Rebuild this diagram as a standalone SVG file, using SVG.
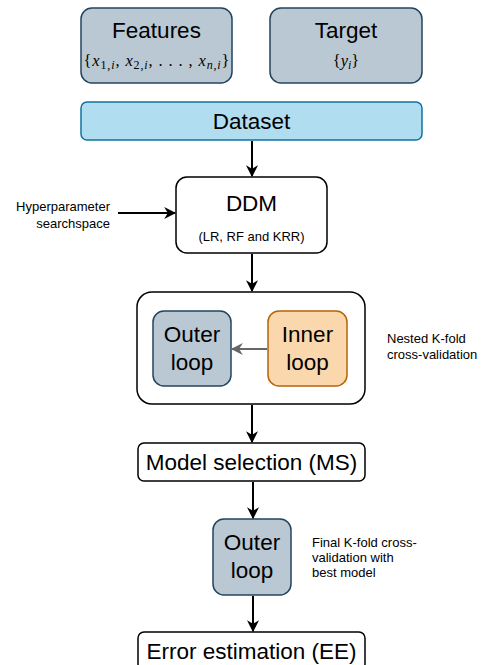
<svg xmlns="http://www.w3.org/2000/svg" width="488" height="665" viewBox="0 0 488 665">
  <style>
    .lbl { font-family: "Liberation Sans", Arial, sans-serif; fill: #000; }
    .big { font-size: 22.5px; text-anchor: middle; }
    .small { font-size: 13px; }
    .math { font-family: "Liberation Serif", "DejaVu Serif", serif; font-size: 16.5px; text-anchor: middle; fill: #000; }
    .mi { font-style: italic; }
    .sub { font-size: 12px; }
    .grey { fill: #bac8d3; stroke: #23445d; stroke-width: 1.5; }
    .blue { fill: #b1ddf0; stroke: #10739e; stroke-width: 1.5; }
    .orange { fill: #fad7ac; stroke: #b46504; stroke-width: 1.5; }
    .plain { fill: #fff; stroke: #000; stroke-width: 1.5; }
    .edge { fill: none; stroke: #000; stroke-width: 2; }
    .edge-grey { fill: none; stroke: #666; stroke-width: 2; }
  </style>
  <defs>
    <marker id="arrow" viewBox="0 0 10 10" refX="9" refY="5" markerWidth="6" markerHeight="6" orient="auto" markerUnits="strokeWidth">
      <path d="M0,0 L10,5 L0,10 L3,5 Z" fill="#000"/>
    </marker>
    <marker id="arrowGrey" viewBox="0 0 10 10" refX="9" refY="5" markerWidth="6" markerHeight="6" orient="auto" markerUnits="strokeWidth">
      <path d="M0,0 L10,5 L0,10 L3,5 Z" fill="#666"/>
    </marker>
  </defs>

  <g id="features">
    <rect class="grey" x="81" y="8" width="151" height="75" rx="11"/>
    <text class="lbl big" x="156.5" y="38">Features</text>
    <text class="math" x="156.5" y="66" textLength="146" lengthAdjust="spacing">{<tspan class="mi">x</tspan><tspan class="sub" dy="3">1,<tspan class="mi">i</tspan></tspan><tspan dy="-3">, </tspan><tspan class="mi">x</tspan><tspan class="sub" dy="3">2,<tspan class="mi">i</tspan></tspan><tspan dy="-3">, . . . , </tspan><tspan class="mi">x</tspan><tspan class="sub" dy="3"><tspan class="mi">n</tspan>,<tspan class="mi">i</tspan></tspan><tspan dy="-3">}</tspan></text>
  </g>

  <g id="target">
    <rect class="grey" x="270" y="8" width="152" height="75" rx="11"/>
    <text class="lbl big" x="346" y="38">Target</text>
    <text class="math" x="346" y="66">{<tspan class="mi">y</tspan><tspan class="sub mi" dy="3">i</tspan><tspan dy="-3">}</tspan></text>
  </g>

  <g id="dataset">
    <rect class="blue" x="81" y="102" width="341" height="38" rx="6"/>
    <text class="lbl big" x="251.5" y="129">Dataset</text>
  </g>

  <g id="hyperparameter">
    <text class="lbl small" x="110" y="211" text-anchor="end">Hyperparameter</text>
    <text class="lbl small" x="110" y="228" text-anchor="end">searchspace</text>
  </g>

  <g id="ddm">
    <rect class="plain" x="176" y="177" width="151" height="76" rx="11"/>
    <text class="lbl big" x="251.5" y="211">DDM</text>
    <text class="lbl small" x="251.5" y="241" text-anchor="middle">(LR, RF and KRR)</text>
  </g>

  <g id="nested-cv">
    <rect class="plain" x="137" y="292" width="228" height="112" rx="15"/>
    <text class="lbl small" x="387" y="343">Nested K-fold</text>
    <text class="lbl small" x="387" y="359">cross-validation</text>
  </g>

  <g id="outer-loop">
    <rect class="grey" x="153" y="311" width="78" height="75" rx="11"/>
    <text class="lbl big" x="192" y="342">Outer</text>
    <text class="lbl big" x="192" y="370">loop</text>
  </g>

  <g id="inner-loop">
    <rect class="orange" x="268" y="311" width="79" height="75" rx="11"/>
    <text class="lbl big" x="307.5" y="342">Inner</text>
    <text class="lbl big" x="307.5" y="370">loop</text>
  </g>

  <g id="model-selection">
    <rect class="plain" x="138" y="443" width="227" height="38" rx="6"/>
    <text class="lbl big" x="251.5" y="470">Model selection (MS)</text>
  </g>

  <g id="final-outer-loop">
    <rect class="grey" x="213" y="519" width="78" height="76" rx="11"/>
    <text class="lbl big" x="252" y="550">Outer</text>
    <text class="lbl big" x="252" y="578">loop</text>
    <text class="lbl small" x="312" y="547">Final K-fold cross-</text>
    <text class="lbl small" x="312" y="562">validation with</text>
    <text class="lbl small" x="312" y="577">best model</text>
  </g>

  <g id="error-estimation">
    <rect class="plain" x="138" y="632" width="227" height="38" rx="6"/>
    <text class="lbl big" x="251.5" y="659">Error estimation (EE)</text>
  </g>

  <!-- connectors, drawn last so they sit above the box fills -->
  <g id="connectors">
    <path class="edge" d="M252,141 V176" marker-end="url(#arrow)"/>
    <path class="edge" d="M118,213 H175" marker-end="url(#arrow)"/>
    <path class="edge" d="M252,254 V291" marker-end="url(#arrow)"/>
    <path class="edge-grey" d="M267,349 H232" marker-end="url(#arrowGrey)"/>
    <path class="edge" d="M252,405 V442" marker-end="url(#arrow)"/>
    <path class="edge" d="M253,482 V518" marker-end="url(#arrow)"/>
    <path class="edge" d="M253,596 V631" marker-end="url(#arrow)"/>
  </g>
</svg>
